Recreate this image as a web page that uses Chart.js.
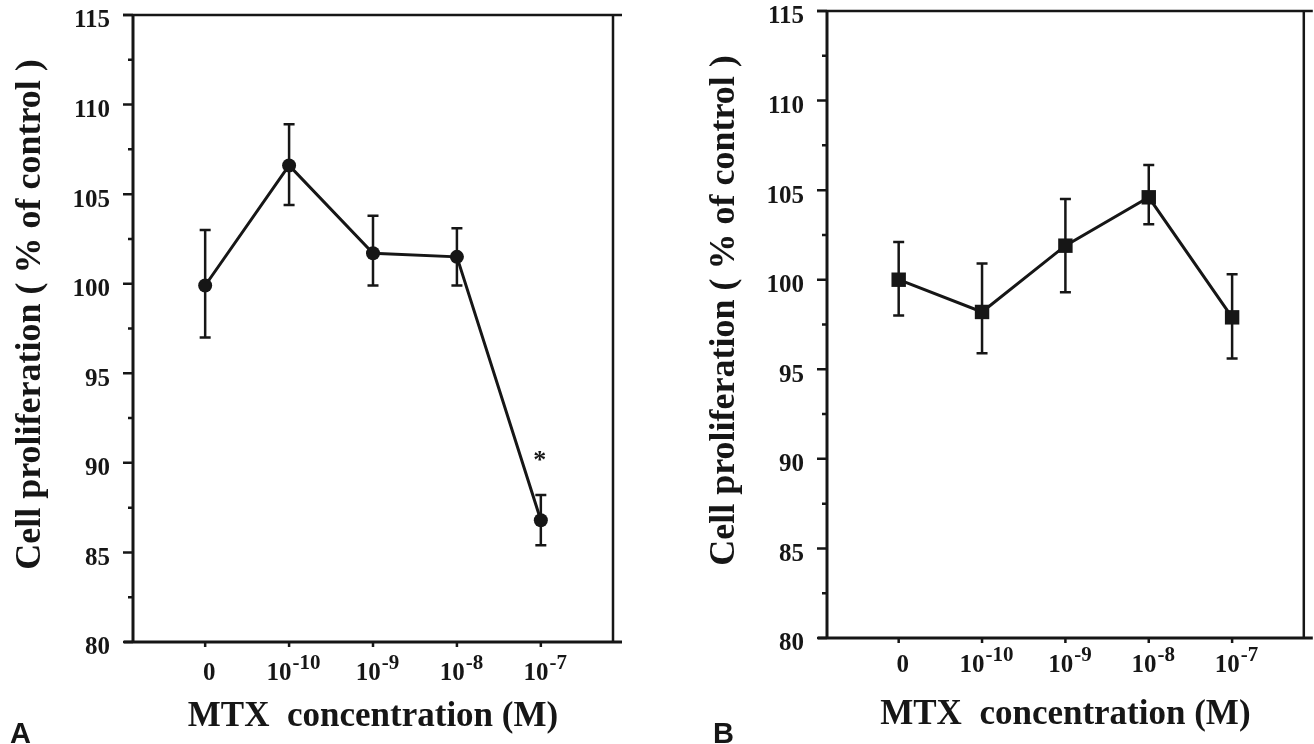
<!DOCTYPE html>
<html>
<head>
<meta charset="utf-8">
<script src="https://cdn.jsdelivr.net/npm/chart.js@4.4.0/dist/chart.umd.min.js"></script>
<style>
  html, body { margin: 0; padding: 0; background: #fff; }
  body { width: 1314px; height: 744px; position: relative; overflow: hidden; }
  .panel { position: absolute; top: 0; height: 744px; }
  #wrapA { left: 0; width: 660px; }
  #wrapB { left: 694px; width: 620px; }
</style>
</head>
<body>
<div class="panel" id="wrapA"><canvas id="chartA"></canvas></div>
<div class="panel" id="wrapB"><canvas id="chartB"></canvas></div>
<script>
// x categories (MTX concentration), drawn as base + superscript
const doseBase = ['0', '10', '10', '10', '10'];
const doseExp = ['', '-10', '-9', '-8', '-7'];
const yMajorTicks = [80, 85, 90, 95, 100, 105, 110, 115];
const yTitle = 'Cell proliferation ( % of control )';
const xTitle = 'MTX  concentration (M)';

// panel A: cell proliferation (% of control), mean and error bar ends
const meanA = [99.9, 106.6, 101.7, 101.5, 86.8];
const upperA = [103.0, 108.9, 103.8, 103.1, 88.2];
const lowerA = [97.0, 104.4, 99.9, 99.9, 85.4];
const marksA = ['', '', '', '', '*'];

// panel B
const meanB = [100.0, 98.2, 101.9, 104.6, 97.9];
const upperB = [102.1, 100.9, 104.5, 106.4, 100.3];
const lowerB = [98.0, 95.9, 99.3, 103.1, 95.6];
const marksB = ['', '', '', '', ''];

const INK = '#161616';
const serif = "'Liberation Serif', 'Times New Roman', serif";

function makePanel(id, letter, mean, upper, lower, marks, pointStyle, radius, lay) {
    const framePlugin = {
        id: 'frame' + letter,
        beforeDatasetsDraw(chart) {
            const {ctx, scales: {x, y}} = chart;
            ctx.save();
            ctx.strokeStyle = INK;
            ctx.lineWidth = 2.5;
            upper.forEach((hi, i) => {
                const px = x.getPixelForValue(i);
                const top = y.getPixelForValue(hi);
                const bot = y.getPixelForValue(lower[i]);
                ctx.beginPath();
                ctx.moveTo(px, top); ctx.lineTo(px, bot);
                ctx.moveTo(px - 5.5, top); ctx.lineTo(px + 5.5, top);
                ctx.moveTo(px - 5.5, bot); ctx.lineTo(px + 5.5, bot);
                ctx.stroke();
            });
            ctx.restore();
        },
        afterDraw(chart) {
            const {ctx, chartArea: a, scales: {x, y}} = chart;
            ctx.save();
            ctx.strokeStyle = INK;
            ctx.fillStyle = INK;

            // box
            ctx.lineWidth = 3;
            ctx.beginPath();
            ctx.moveTo(a.left, a.top); ctx.lineTo(a.left, a.bottom);
            ctx.moveTo(a.left - 9, a.bottom); ctx.lineTo(a.right + 9, a.bottom);
            ctx.stroke();
            ctx.lineWidth = 2.5;
            ctx.beginPath();
            ctx.moveTo(a.right, a.top); ctx.lineTo(a.right, a.bottom);
            ctx.moveTo(a.left - 10, a.top); ctx.lineTo(a.right + 9, a.top);
            ctx.stroke();

            // y ticks, major outward 10px, minor 5px
            ctx.beginPath();
            y.ticks.forEach(t => {
                const py = y.getPixelForValue(t.value);
                const len = t.value % 5 === 0 ? 10 : 5;
                ctx.moveTo(a.left - len, py); ctx.lineTo(a.left, py);
            });
            // x ticks
            doseBase.forEach((b, i) => {
                const px = x.getPixelForValue(i);
                ctx.moveTo(px, a.bottom); ctx.lineTo(px, a.bottom + 5);
            });
            ctx.stroke();

            // x tick labels with superscript exponent
            ctx.textAlign = 'left';
            ctx.textBaseline = 'alphabetic';
            doseBase.forEach((b, i) => {
                const px = x.getPixelForValue(i);
                ctx.font = `bold 25px ${serif}`;
                const bw = ctx.measureText(b).width;
                ctx.font = `bold 21px ${serif}`;
                const ew = ctx.measureText(doseExp[i]).width;
                const start = px + 4 - (bw + ew) / 2;
                const base = a.bottom + lay.tickBase;
                ctx.font = `bold 25px ${serif}`;
                ctx.fillText(b, start, base);
                ctx.font = `bold 21px ${serif}`;
                ctx.fillText(doseExp[i], start + bw + 1, base - 11);
            });

            // y axis title, a little above the middle as in the print
            ctx.save();
            ctx.translate(31, (a.top + a.bottom) / 2 - 14);
            ctx.rotate(-Math.PI / 2);
            ctx.font = `bold 36px ${serif}`;
            ctx.textAlign = 'center';
            ctx.textBaseline = 'middle';
            ctx.fillText(yTitle, 0, 0);
            ctx.restore();

            // significance marks
            ctx.font = `bold 26px ${serif}`;
            ctx.textAlign = 'center';
            marks.forEach((m, i) => {
                if (!m) return;
                ctx.fillText(m, x.getPixelForValue(i) - 1, y.getPixelForValue(upper[i]) - 27);
            });

            // panel letter
            ctx.font = "bold 29px 'Liberation Sans', Arial, sans-serif";
            ctx.textAlign = 'left';
            ctx.fillText(letter, lay.letterX, 743);
            ctx.restore();
        }
    };

    return new Chart(document.getElementById(id), {
        type: 'line',
        data: {
            datasets: [{
                data: mean.map((v, i) => ({x: i, y: v})),
                borderColor: INK,
                borderWidth: 3,
                pointStyle: pointStyle,
                pointRadius: radius,
                pointBorderWidth: 0,
                pointBackgroundColor: INK,
                tension: 0,
                clip: false
            }]
        },
        options: {
            responsive: true,
            maintainAspectRatio: false,
            animation: false,
            layout: { padding: { left: 0, top: lay.top, right: lay.right, bottom: 0 } },
            plugins: { legend: { display: false }, tooltip: { enabled: false } },
            scales: {
                x: {
                    type: 'linear',
                    min: -0.86,
                    max: 4.86,
                    grid: { display: false },
                    border: { display: false },
                    ticks: { display: false },
                    title: {
                        display: true,
                        text: xTitle,
                        color: INK,
                        font: { family: serif, size: 35, weight: 'bold', lineHeight: 1 },
                        padding: { top: 0, bottom: lay.titlePad }
                    },
                    afterFit(s) { s.height = lay.axisH; s.paddingLeft = 0; s.paddingRight = 0; }
                },
                y: {
                    min: 80,
                    max: 115,
                    grid: { display: false, drawTicks: false },
                    border: { display: false },
                    afterBuildTicks(s) {
                        const t = [];
                        yMajorTicks.forEach((v, i) => {
                            t.push({value: v});
                            if (i < yMajorTicks.length - 1) t.push({value: (v + yMajorTicks[i + 1]) / 2});
                        });
                        s.ticks = t;
                    },
                    ticks: {
                        autoSkip: false,
                        color: INK,
                        padding: 23,
                        labelOffset: 6,
                        font: { family: serif, size: 25, weight: 'bold' },
                        callback: v => (v % 5 === 0 ? String(v) : '')
                    },
                    afterFit(s) { s.width = 133; s.paddingTop = 0; s.paddingBottom = 0; }
                }
            }
        },
        plugins: [framePlugin]
    });
}

makePanel('chartA', 'A', meanA, upperA, lowerA, marksA, 'circle', 7,
    { top: 15, right: 47, axisH: 102, titlePad: 9.5, tickBase: 38, letterX: 10 });
makePanel('chartB', 'B', meanB, upperB, lowerB, marksB, 'rect', 10.2,
    { top: 11, right: 9, axisH: 106, titlePad: 11.5, tickBase: 34, letterX: 19 });
</script>
</body>
</html>
